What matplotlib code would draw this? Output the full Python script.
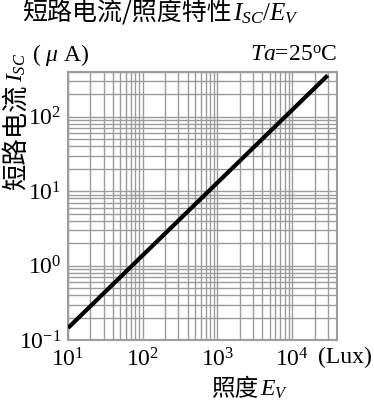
import matplotlib
matplotlib.use("Agg")
import matplotlib.pyplot as plt
from matplotlib.ticker import LogLocator, NullFormatter

# Data
illuminance = [10, 30000]          # Lux
isc = [0.145, 360]                 # µA
xlim = (10, 40000)
ylim = (0.1, 400)
x_ticks = [10, 100, 1000, 10000]
x_tick_labels = [r"$10^{1}$", r"$10^{2}$", r"$10^{3}$", r"$10^{4}$"]
y_ticks = [0.1, 1, 10, 100]
y_tick_labels = [r"$10^{-1}$", r"$10^{0}$", r"$10^{1}$", r"$10^{2}$"]

plt.rcParams['font.family'] = ['Liberation Serif', 'Noto Sans CJK SC']
plt.rcParams['mathtext.fontset'] = 'custom'
plt.rcParams['mathtext.rm'] = 'Liberation Serif'
plt.rcParams['mathtext.it'] = 'Liberation Serif:italic'
plt.rcParams['mathtext.default'] = 'regular'

CJK = ['Noto Sans CJK SC', 'DejaVu Sans']

W, H = 374, 411
fig = plt.figure(figsize=(W / 100, H / 100), dpi=100)
ax = fig.add_axes([68 / W, 1 - 340 / H, (337 - 68) / W, (340 - 72) / H])

ax.set_xscale('log')
ax.set_yscale('log')
ax.set_xlim(*xlim)
ax.set_ylim(*ylim)

grid_color = '#9c9c9c'
ax.xaxis.set_minor_locator(LogLocator(base=10, subs=range(2, 10), numticks=20))
ax.yaxis.set_minor_locator(LogLocator(base=10, subs=range(2, 10), numticks=20))
ax.xaxis.set_minor_formatter(NullFormatter())
ax.yaxis.set_minor_formatter(NullFormatter())
ax.grid(True, which='both', color=grid_color, linewidth=1.0)
for s in ax.spines.values():
    s.set_color(grid_color)
    s.set_linewidth(1.5)
ax.tick_params(which='both', length=0)

ax.set_xticks(x_ticks)
ax.set_xticklabels(x_tick_labels, fontsize=17)
ax.set_yticks(y_ticks)
ax.set_yticklabels(y_tick_labels, fontsize=17)
ax.tick_params(axis='x', pad=6)
ax.tick_params(axis='y', pad=5)

ax.plot(illuminance, isc, color='black', linewidth=3.0, solid_capstyle='butt', zorder=5)

renderer = fig.canvas.get_renderer()

def fy(py):
    return 1 - py / H

# Title: CJK part then math part
t1 = fig.text(22 / W, fy(20), "短路电流/照度特性", family=CJK, fontsize=18,
              ha='left', va='baseline')
bb = t1.get_window_extent(renderer)
fig.text((bb.x1 + 1) / W, fy(20), r"$\mathit{I_{SC}/E_V}$", fontsize=18,
         ha='left', va='baseline')

# Y label (rotated): CJK part and Isc
t2 = fig.text(16 / W, fy(137), "短路电流", family=CJK, rotation=90, fontsize=19,
              ha='center', va='center')
bb2 = t2.get_window_extent(renderer)
fig.text(17 / W, (bb2.y1 + 2) / H, r"$\mathit{I_{SC}}$", rotation=90, fontsize=17,
         ha='center', va='bottom')
fig.text(32 / W, fy(55), r"( $\mathit{\mu}$ A)", fontsize=17, ha='left', va='center')

# Temperature annotation
fig.text(337 / W, fy(55), r"$\mathit{Ta}$=25$^{\rm o}$C", fontsize=17,
         ha='right', va='center')

# Unit and x label
fig.text(372 / W, fy(357), "(Lux)", fontsize=17, ha='right', va='center')
t3 = fig.text(212 / W, fy(396), "照度", family=CJK, fontsize=17, ha='left', va='baseline')
bb3 = t3.get_window_extent(renderer)
fig.text((bb3.x1 + 1) / W, fy(396), r"$\mathit{E_V}$", fontsize=17, ha='left', va='baseline')

fig.savefig("out.png", dpi=100)
